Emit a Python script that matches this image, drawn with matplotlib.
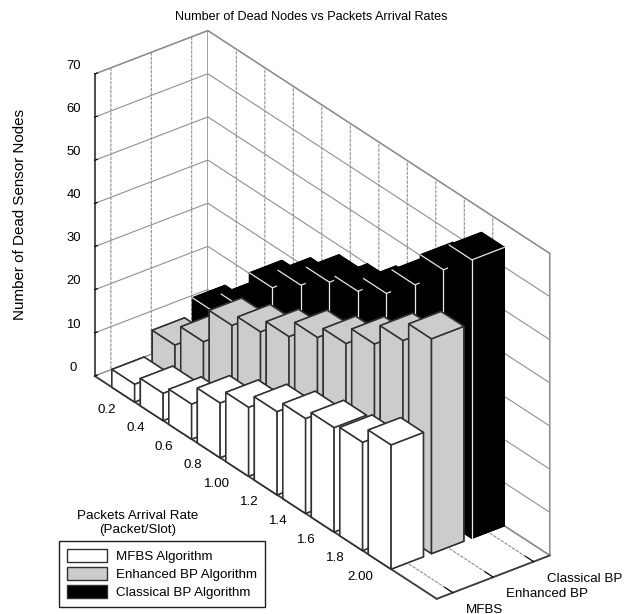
from matplotlib import pyplot as plt
from matplotlib.patches import Patch
import numpy as np

arrival_rates = ['0.2', '0.4', '0.6', '0.8', '1.00', '1.2', '1.4', '1.6', '1.8', '2.00']
algorithms = ['MFBS', 'Enhanced BP', 'Classical BP']
node_ticks = [0, 10, 20, 30, 40, 50, 60, 70]
mfbs = [4.1, 6.3, 8.1, 12.7, 16.0, 19.3, 22.0, 24.2, 25.1, 28.8]
enhanced_bp = [9.6, 14.7, 22.8, 25.6, 28.8, 32.9, 35.8, 40.0, 45.1, 49.8]
classical_bp = [13.5, 18.7, 27.9, 32.8, 37.8, 40.0, 43.8, 50.1, 57.9, 64.5]

plt.rcParams['font.family'] = ['Liberation Sans', 'DejaVu Sans']
plt.rcParams['font.size'] = 9.6

fig = plt.figure(figsize=(6.34, 6.14), dpi=100)
ax = fig.add_axes([-14.9 / 634, 1 - 651.9 / 614, 656.6 / 634, 656.6 / 614],
                  projection='3d', computed_zorder=False)
ax.set_proj_type('ortho')
ax.view_init(elev=30, azim=-37.5)
ax.set_box_aspect((561.6, 142.5, 348.7))
ax.set_xlim(0, 12)
ax.set_ylim(0.6, 3.4)
ax.set_zlim(0, 70)

zorder = 10
series = [(3, classical_bp, 'black', 'black'),
          (2, enhanced_bp, '#cccccc', '#303030'),
          (1, mfbs, 'white', '#303030')]
for row, values, color, edge in series:
  for i, h in enumerate(values):
    x = i + 1
    ax.bar3d(x - 0.4, row - 0.4, 0, 0.8, 0.8, h, color=color, edgecolor=edge,
             linewidth=1.1, shade=False, zorder=zorder)
    zorder += 1
    if color == 'black':
      ax.plot([x + 0.4, x + 0.4], [row - 0.4, row - 0.4], [0, h], color='#e8e8e8',
              lw=0.9, zorder=zorder)
      ax.plot([x - 0.4, x + 0.4, x + 0.4], [row - 0.4, row - 0.4, row + 0.4], [h, h, h],
              color='#e8e8e8', lw=0.9, zorder=zorder)
      zorder += 1

ax.set_xticks(np.arange(1, 11))
ax.set_xticklabels(arrival_rates, ha='right', va='bottom')
ax.set_yticks([1, 2, 3])
ax.set_yticklabels(algorithms, ha='left', va='baseline')
ax.set_zticks(node_ticks)
ax.set_zticklabels([str(t) for t in node_ticks], va='center')
ax.zaxis.set_ticks_position('lower')
ax.tick_params(axis='x', labelsize=9.6, pad=7)
ax.tick_params(axis='y', labelsize=9.6, pad=1.5)
ax.tick_params(axis='z', labelsize=9.4, pad=3.5)

for axis in (ax.xaxis, ax.yaxis, ax.zaxis):
  axis.set_pane_color((1, 1, 1, 1))
  axis.pane.set_edgecolor('#808080')
  axis.line.set_color('#404040')
  axis.line.set_linewidth(1.3)
  axis._axinfo['tick']['inward_factor'] = 0
  axis._axinfo['tick']['outward_factor'] = 0.3
  axis._axinfo['tick']['color'] = '#404040'
  axis._axinfo['grid']['color'] = '#909090'
  axis._axinfo['grid']['linewidth'] = 0.8
ax.xaxis._axinfo['grid']['linestyle'] = (0, (3, 1))
ax.yaxis._axinfo['grid']['linestyle'] = (0, (3, 1))

fig.text(311 / 634, 1 - 17 / 614, 'Number of Dead Nodes vs Packets Arrival Rates',
         ha='center', va='center', fontsize=9.13)
fig.text(20 / 634, 1 - 215 / 614, 'Number of Dead Sensor Nodes', rotation=90,
         ha='center', va='center', fontsize=10.9)
fig.text(138 / 634, 1 - 523 / 614, 'Packets Arrival Rate\n(Packet/Slot)',
         ha='center', va='center', linespacing=1.3)

handles = [Patch(facecolor='white', edgecolor='#303030'),
           Patch(facecolor='#cccccc', edgecolor='#303030'),
           Patch(facecolor='black', edgecolor='#303030')]
fig.legend(handles, ['MFBS Algorithm', 'Enhanced BP Algorithm', 'Classical BP Algorithm'],
           loc='lower left', bbox_to_anchor=(59 / 634, 1 - 607 / 614), fancybox=False,
           framealpha=1, edgecolor='#202020', borderaxespad=0, handlelength=3.0,
           handleheight=1.1, handletextpad=0.65, labelspacing=0.3, borderpad=0.6)

fig.savefig('out.png', dpi=100)
